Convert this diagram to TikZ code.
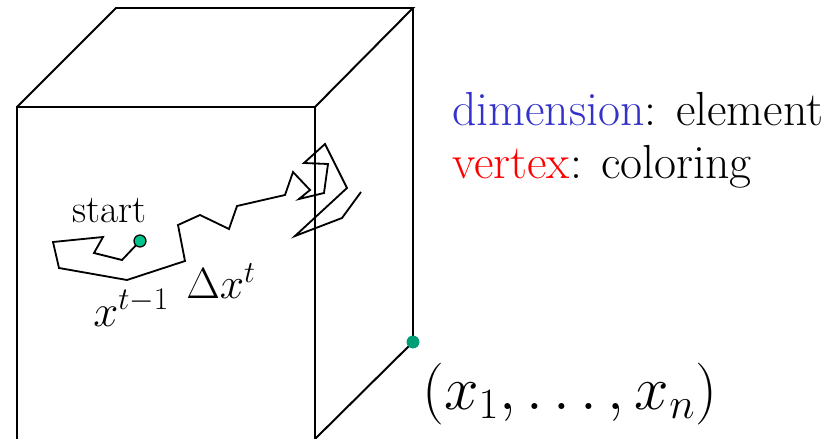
\documentclass[tikz,border=0pt]{standalone}
\usepackage{fix-cm}
\usepackage{fontspec}
\usetikzlibrary{positioning}
\definecolor{dimblue}{RGB}{51,51,204}
\definecolor{vertred}{RGB}{255,0,0}
\definecolor{startgreen}{RGB}{0,196,140}
\definecolor{endgreen}{RGB}{0,158,118}
\tikzset{
  edge/.style={black,line width=1.4pt},
  walk/.style={black,line width=1.3pt,line join=miter},
  startdot/.style={circle,draw=black,line width=0.9pt,fill=startgreen,inner sep=0pt,minimum size=8.5pt},
  enddot/.style={circle,fill=endgreen,inner sep=0pt,minimum size=9pt},
  legend/.style={anchor=base west,inner sep=0pt,font=\fontsize{34}{40}\selectfont},
  lab/.style={inner sep=0pt,font=\fontsize{28}{32}\selectfont},
  mathlab/.style={inner sep=0pt,anchor=base west},
}

\begin{document}
\begin{tikzpicture}[x=0.025cm,y=-0.025cm]
  \path[use as bounding box] (0,0) rectangle (840,439);

  % box corners
  \coordinate (FTL) at (17,107);
  \coordinate (FTR) at (315,107);
  \coordinate (BTL) at (116,8);
  \coordinate (BTR) at (413,8);
  \coordinate (FBL) at (17,439);
  \coordinate (FBR) at (315,439);
  \node[enddot] (END) at (413,342) {};

  \draw[edge] (FBL) -- (FTL) -- (FTR) -- (FBR);
  \draw[edge] (FTL) -- (BTL) -- (BTR) -- (FTR);
  \draw[edge] (BTR) -- (END.center) -- (FBR);
  \node[enddot] at (END) {};

  % random walk
  \node[startdot] (START) at (140,241) {};
  \draw[walk] (START) -- (122,260) -- (94,253) -- (103,237) -- (53,242)
    -- (59,268) -- (127,280) -- (185,261) -- (178,225) -- (200,215)
    -- (229,229) -- (237,206) -- (285,195) -- (293,172) -- (310,190)
    -- (299,199) -- (324,193) -- (328,164) -- (304,163) -- (325,144)
    -- (347,188) -- (295,236) -- (342,218) -- (361,192);

  \node[lab,anchor=base west] (STARTLAB) at (72,222) {start};
  \node[mathlab,font=\fontsize{32}{36}\selectfont] (PREV) at (93,326) {$x^{t-1}$};
  \node[mathlab,font=\fontsize{31}{34}\selectfont] (STEP) at (186,298) {$\Delta x^{t}$};
  \node[mathlab,font=\fontsize{44}{48}\selectfont] (POINT) at (422,409) {$(x_1,\ldots,x_n)$};

  \node[legend] (DIM) at (452,126) {\textcolor{dimblue}{dimension}: element};
  \node[legend] (VTX) at (452,178) {\textcolor{vertred}{vertex}: coloring};
\end{tikzpicture}
\end{document}
